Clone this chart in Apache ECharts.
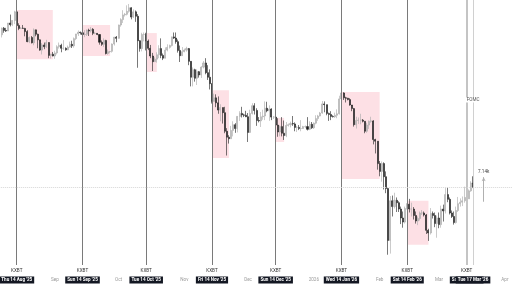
<!DOCTYPE html>
<html><head><meta charset="utf-8">
<script src="https://cdn.jsdelivr.net/npm/echarts@6/dist/echarts.min.js"></script>
<style>html,body{margin:0;padding:0;background:#fff}#c{width:512px;height:288px}</style>
</head><body><div id="c"></div>
<script>
// Daily candles (price in thousands), 2025-08-07 .. 2026-03-17
var startDate = '2025-08-07';
var axisDays = 241;
var firstOpen = 115.2;
var closes = [117.5,116.7,116.5,119.3,118.7,120.2,123.3,118.4,117.4,117.5,117.4,116.3,112.9,114.3,112.5,116.9,115.4,113.5,110.1,111.8,111.2,112.6,108.4,108.8,108.2,
109.2,111.2,111.7,110.7,110.7,110.2,111.1,112.0,111.5,113.9,115.5,116.1,115.9,115.3,115.4,116.8,116.5,117.1,115.7,115.7,115.3,112.7,112.0,113.3,109.0,109.6,109.7,112.1,114.4,114.0,
118.6,120.5,122.2,122.4,123.5,124.8,121.4,123.3,121.7,113.2,110.6,115.3,115.3,113.1,110.7,108.2,106.4,107.2,108.6,110.6,108.4,107.5,110.1,111.0,111.6,114.5,114.1,112.9,110.0,108.3,109.6,
110.1,110.6,106.5,101.6,103.9,101.3,103.3,102.3,104.7,106.0,103.0,101.6,99.7,94.6,95.6,94.2,92.2,92.9,91.5,86.6,85.1,84.7,86.8,88.3,87.3,90.5,91.3,90.9,90.8,90.4,
86.3,91.3,93.4,92.1,89.4,89.3,90.4,90.6,92.7,92.0,92.5,90.3,90.3,88.2,86.4,87.8,86.1,85.5,88.1,88.3,88.6,88.5,87.6,87.6,87.3,87.3,87.8,87.8,87.1,88.4,87.5,
88.7,89.9,90.6,91.4,93.9,93.7,91.3,91.0,90.5,90.4,90.8,91.2,95.3,97.0,95.6,95.5,95.1,93.6,92.6,88.3,89.4,89.5,89.5,89.2,86.6,88.2,89.2,89.3,84.5,84.1,78.7,
76.9,78.7,75.7,73.1,62.7,70.5,69.3,70.6,70.1,68.8,67.0,66.2,68.9,69.8,68.8,68.8,67.5,66.4,66.9,68.0,68.0,67.6,64.6,64.1,67.9,67.5,65.9,67.0,
65.7,68.8,68.4,71.8,70.8,68.0,67.3,66.1,68.5,69.9,70.2,70.5,71.2,70.9,72.6,74.3,73.5];
var highs = [117.7,117.9,117.6,119.3,122.3,120.3,123.7,124.4,119.2,117.9,118.6,117.6,116.8,114.6,114.8,117.4,117.0,115.6,113.6,112.4,112.6,113.5,112.7,108.9,109.5,
109.9,111.7,112.6,112.2,113.4,111.0,111.6,112.9,113.2,114.3,115.5,116.7,116.3,116.1,116.8,117.0,117.3,117.9,117.5,116.2,115.8,115.4,113.3,114.0,113.5,110.3,109.8,112.3,114.5,114.8,
118.7,121.0,123.9,122.9,125.7,126.2,125.0,124.2,123.8,122.5,113.4,115.9,116.0,115.9,113.6,111.8,109.2,107.8,109.4,111.7,114.0,109.0,111.0,112.0,111.9,114.6,116.0,116.0,113.6,111.6,111.1,
110.6,111.2,110.8,106.6,104.6,104.2,104.0,103.5,105.0,106.6,107.5,105.3,104.0,99.8,96.8,96.6,96.0,93.8,92.9,93.1,87.4,85.6,88.0,89.2,88.7,90.6,91.9,93.1,91.2,92.0,
91.4,92.3,94.1,94.1,92.7,90.3,91.7,92.3,94.6,94.5,93.5,92.7,90.6,90.6,90.0,88.1,90.3,89.4,89.0,88.6,89.1,90.6,88.9,88.0,88.2,89.5,88.0,88.1,90.3,89.2,89.0,
88.9,90.8,90.9,91.7,94.7,94.6,93.7,91.5,91.9,90.8,91.5,92.4,96.2,97.9,97.2,95.9,95.6,95.5,93.4,92.8,90.4,90.2,91.2,89.8,89.2,88.8,89.4,90.4,89.5,84.7,84.1,
79.3,79.2,79.0,76.9,73.3,71.5,71.6,72.2,71.2,70.4,69.3,68.3,69.3,70.0,70.9,70.1,69.2,68.3,67.3,68.3,68.6,68.3,67.8,64.9,69.0,68.3,68.1,67.5,
68.1,69.5,69.7,73.2,73.3,71.2,68.5,68.3,69.3,71.3,71.0,71.4,73.5,71.6,72.9,74.7,75.8];
var lows = [114.3,115.9,116.2,116.5,118.1,118.2,118.9,117.2,116.8,117.2,117.3,114.7,112.7,112.4,112.3,111.7,114.7,110.7,109.9,108.7,110.4,110.8,107.5,107.4,108.1,
107.3,108.7,110.6,109.4,110.2,109.9,110.1,110.9,110.8,110.9,113.4,114.8,115.3,114.8,114.4,114.8,114.8,116.0,115.1,115.4,115.1,111.9,111.5,111.1,108.7,108.6,109.1,109.3,111.6,112.7,
113.9,118.0,119.3,121.6,122.0,123.0,120.6,121.1,119.7,104.5,109.6,109.7,113.0,110.0,110.1,107.5,103.5,106.4,106.1,107.5,107.5,106.9,107.6,109.7,110.6,111.3,113.8,112.2,109.3,106.3,108.4,
109.4,109.6,105.3,98.9,98.9,100.3,99.3,101.5,101.4,104.3,102.5,100.8,98.0,94.0,94.6,93.0,91.2,89.2,88.6,86.1,80.6,83.5,84.7,85.3,86.2,86.3,89.3,90.2,90.3,90.3,
83.9,86.2,91.0,91.0,88.0,88.9,87.7,89.6,89.5,91.6,89.3,89.5,89.8,87.6,85.2,85.3,85.3,84.4,85.1,87.8,87.6,88.0,86.6,86.4,86.9,86.6,87.2,87.4,86.8,86.9,87.2,
87.2,88.4,89.3,90.5,91.2,91.6,90.8,89.3,89.5,90.2,90.1,90.0,91.0,94.5,95.0,94.3,94.9,93.4,91.9,87.8,87.3,88.5,88.4,88.9,86.1,86.2,87.2,88.8,83.3,81.1,77.3,
75.8,74.6,72.9,72.1,60.1,60.3,67.3,68.9,68.2,68.2,65.8,65.1,65.9,68.7,68.1,67.3,66.7,65.9,65.6,66.5,67.6,67.3,63.9,62.6,63.8,66.9,65.2,63.2,
65.0,65.1,66.3,67.9,70.2,67.7,67.0,65.7,65.9,68.2,69.3,69.4,70.1,70.5,70.9,72.4,73.2];

var eventDates = ['2025-08-14','2025-09-14','2025-10-14','2025-11-14','2025-12-14','2026-01-14','2026-02-14','2026-03-14'];
var eventLabels = ["Thu 14 Aug '25","Sun 14 Sep '25","Tue 14 Oct '25","Fri 14 Nov '25","Sun 14 Dec '25","Wed 14 Jan '26","Sat 14 Feb '26","Sat 14 Mar '26"];
var fomcDate = '2026-03-17';
var fomcLabel = "Tue 17 Mar '26";
var monthDates = ['2025-09-01','2025-10-01','2025-11-01','2025-12-01','2026-01-01','2026-02-01','2026-03-01','2026-04-01'];
var monthLabels = ['Sep','Oct','Nov','Dec','2026','Feb','Mar','Apr'];
// highlighted windows: start, end, top price, bottom price
var zoneStart = ['2025-08-14','2025-09-14','2025-10-14','2025-11-14','2025-12-14','2026-01-14','2026-02-14'];
var zoneEnd   = ['2025-08-31','2025-09-27','2025-10-19','2025-11-22','2025-12-18','2026-02-01','2026-02-24'];
var zoneTop   = [124.0,118.6,115.8,97.8,90.1,97.3,70.5];
var zoneBottom= [107.2,108.2,103.2,80.0,83.9,75.2,61.9];
var lastPriceLine = 73.4;
var arrowDate = '2026-03-22';
var arrowFrom = 70.3, arrowTo = 75.6;
var arrowLabel = '7.14k';
var fomcTextPrice = 95.0;

function pad(n){return (n<10?'0':'')+n;}
var cats = [];
var d0 = new Date(startDate + 'T00:00:00Z');
for (var i = 0; i < axisDays; i++) {
  var d = new Date(d0.getTime() + i * 86400000);
  cats.push(d.getUTCFullYear() + '-' + pad(d.getUTCMonth() + 1) + '-' + pad(d.getUTCDate()));
}
var candles = [];
for (var k = 0; k < closes.length; k++) {
  var o = k === 0 ? firstOpen : closes[k - 1];
  candles.push([o, closes[k], lows[k], highs[k]]);
}
var labelMap = {};
monthDates.forEach(function(m, j){ labelMap[m] = '{m|' + monthLabels[j] + '}'; });
eventDates.forEach(function(e, j){ labelMap[e] = '{b|' + eventLabels[j] + '}'; });
labelMap[fomcDate] = '{b|' + fomcLabel + '}';

var FONT = 'Roboto';
var evLines = eventDates.map(function(e, j){
  var last = j === eventDates.length - 1;
  return { xAxis: e, lineStyle: { color: last ? '#c4c4c4' : '#7a7a7a', width: last ? 2 : 1, type: 'solid' },
           label: { show: true, position: 'start', formatter: 'KXBT', fontSize: 4.6, color: '#333', fontFamily: FONT, distance: 3.5 } };
});
evLines.push({ xAxis: fomcDate, lineStyle: { color: '#d0d0d0', width: 1, type: 'solid' }, label: { show: false } });
evLines.push({ yAxis: lastPriceLine, lineStyle: { color: '#d6d6d6', width: 1, type: 'dotted' }, label: { show: false } });
evLines.push([
  { coord: [arrowDate, arrowFrom], symbol: 'none', lineStyle: { color: '#b0b0b0', width: 1, type: 'solid' } },
  { coord: [arrowDate, arrowTo], symbol: 'arrow', symbolSize: [3, 4],
    label: { show: true, position: 'end', formatter: arrowLabel, fontSize: 4.6, color: '#444', fontFamily: FONT, distance: 3 } }
]);

var areas = zoneStart.map(function(s, j){
  return [{ xAxis: s, yAxis: zoneTop[j] }, { xAxis: zoneEnd[j], yAxis: zoneBottom[j] }];
});

var chart = echarts.init(document.getElementById('c'), null, { renderer: 'canvas' });
chart.setOption({
  animation: false,
  backgroundColor: '#ffffff',
  grid: { left: 0.8, top: 0, width: 511.5, height: 265, outerBoundsMode: 'none', containLabel: false },
  xAxis: {
    type: 'category', data: cats, boundaryGap: true,
    axisLine: { show: false }, axisTick: { show: false }, splitLine: { show: false },
    axisLabel: {
      margin: 12, hideOverlap: false,
      interval: function(idx, val){ return labelMap[val] !== undefined; },
      formatter: function(val){ return labelMap[val] || ''; },
      rich: {
        b: { backgroundColor: '#131722', color: '#ffffff', fontSize: 4.6, fontWeight: 'bold', fontFamily: FONT, padding: [1, 2, 1, 2], lineHeight: 6 },
        m: { color: '#9a9a9a', fontSize: 4.6, fontFamily: FONT, padding: [1, 0, 1, 0], lineHeight: 6 }
      }
    }
  },
  yAxis: { type: 'log', min: 58.3, max: 127.7, show: false, splitLine: { show: false } },
  series: [
    {
      type: 'line', data: [], z: 1, silent: true,
      markArea: { silent: true, itemStyle: { color: '#fde0e5' }, data: areas }
    },
    {
      type: 'candlestick', data: candles, z: 3, barWidth: '72%',
      itemStyle: { color: '#c2c2c2', color0: '#1c1c1c', borderColor: '#a8a8a8', borderColor0: '#1c1c1c', borderWidth: 0.6 },
      markLine: { silent: true, symbol: ['none', 'none'], data: evLines, animation: false },
      markPoint: {
        silent: true, symbol: 'rect', symbolSize: [0, 0],
        data: [{ coord: [fomcDate, fomcTextPrice], label: { show: true, formatter: 'FOMC', fontSize: 4.6, color: '#555', fontFamily: FONT, position: 'inside', backgroundColor: '#ffffff', padding: [0, 1] } }]
      }
    }
  ]
});
</script></body></html>
